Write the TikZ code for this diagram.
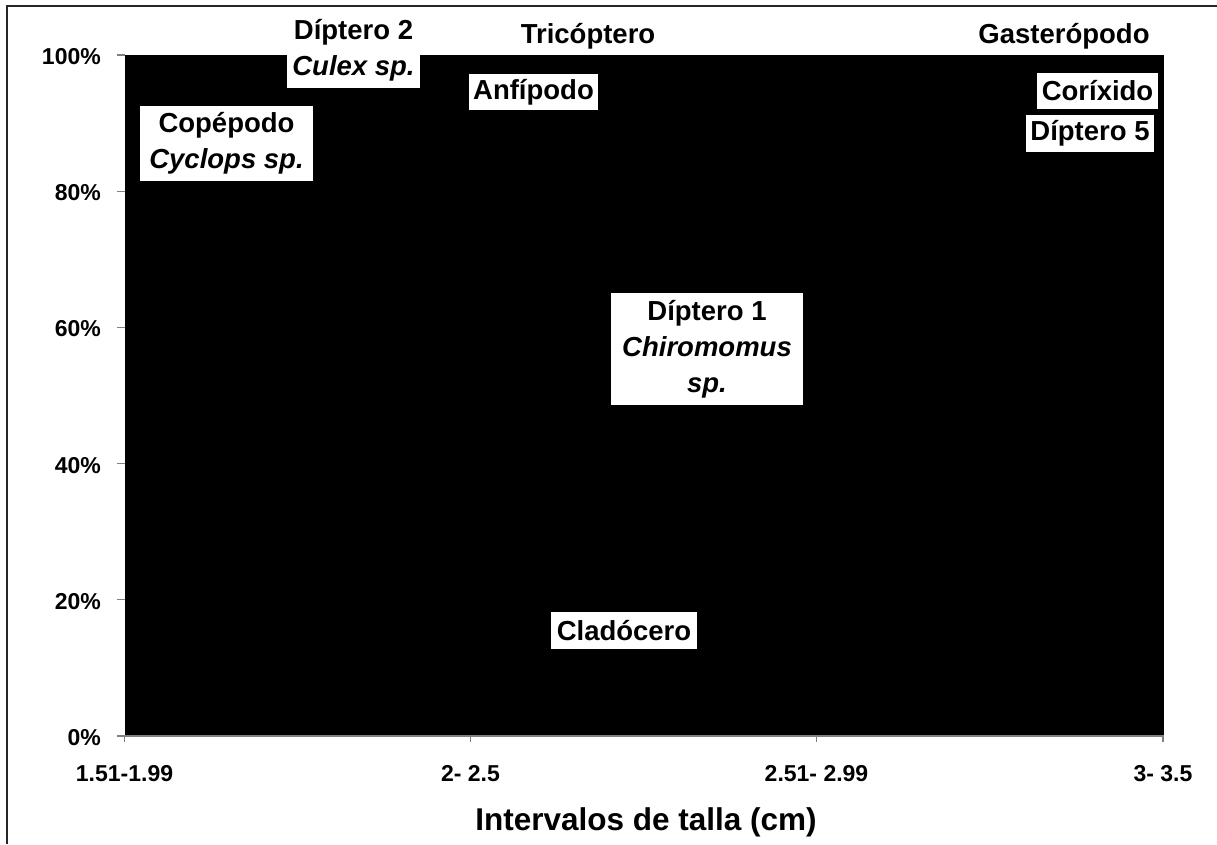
\documentclass[tikz,border=0pt]{standalone}
\usepackage{fontspec}
\setmainfont{Liberation Sans}
\tikzset{
  lbl/.style={fill=white, inner sep=0pt, align=center, font=\fontsize{27.5}{36}\selectfont\bfseries},
  ytl/.style={anchor=east, inner sep=0pt, font=\fontsize{23}{26}\selectfont\bfseries},
  xtl/.style={anchor=center, inner sep=0pt, font=\fontsize{23}{26}\selectfont\bfseries},
  axisline/.style={draw=gray, line width=1.2pt},
  framel/.style={draw=black!85, line width=1.5pt}
}
\begin{document}
\begin{tikzpicture}[x=1pt,y=-1pt]
\useasboundingbox (0,0) rectangle (1217,844);
% frame (left and top edges visible)
\coordinate (fbl) at (7,844);
\coordinate (ftl) at (7,6);
\coordinate (ftr) at (1217,6);
\draw[framel] (fbl) -- (ftl) -- (ftr);
% plot area
\fill[black] (124.5,55) rectangle (1164,736);
\draw[axisline] (124.5,736) -- (1164,736);
% y ticks and labels
\foreach \v/\yy in {0/736,20/599.8,40/463.6,60/327.4,80/191.2,100/55}{
  \draw[axisline] (117,\yy) -- (124.5,\yy);
  \node[ytl] (y\v) at (101,\yy+1.5) {\v\%};
}
% x ticks and labels
\foreach \i/\xx/\t in {1/124.5/{1.51-1.99},2/470.5/{2- 2.5},3/816.5/{2.51- 2.99},4/1163/{3- 3.5}}{
  \draw[axisline] (\xx,736) -- (\xx,742);
  \node[xtl] (x\i) at (\xx,774) {\t};
}
\node[font=\fontsize{31.5}{34}\selectfont\bfseries, inner sep=0pt] (xtitle) at (646,822) {Intervalos de talla (cm)};
% labels
\node[lbl, minimum width=133pt, minimum height=75pt] (d2) at (353.5,50.5) {Díptero 2\\\itshape Culex sp.};
\node[lbl, minimum width=150pt, minimum height=37pt] (tric) at (588,36.5) {Tricóptero};
\node[lbl, minimum width=186pt, minimum height=37pt] (gast) at (1064,36.5) {Gasterópodo};
\node[lbl, minimum width=129pt, minimum height=36pt] (anf) at (533.5,92) {Anfípodo};
\node[lbl, minimum width=121pt, minimum height=36pt] (cor) at (1097.5,91) {Coríxido};
\node[lbl, minimum width=128pt, minimum height=37pt] (d5) at (1090,133.5) {Díptero 5};
\node[lbl, minimum width=173pt, minimum height=75pt] (cop) at (226.5,143.5) {Copépodo\\\itshape Cyclops sp.};
\node[lbl, minimum width=192pt, minimum height=112pt] (d1) at (707,349) {Díptero 1\\\itshape Chiromomus\\\itshape sp.};
\node[lbl, minimum width=146pt, minimum height=37pt] (clad) at (624,630.5) {Cladócero};
\end{tikzpicture}
\end{document}
